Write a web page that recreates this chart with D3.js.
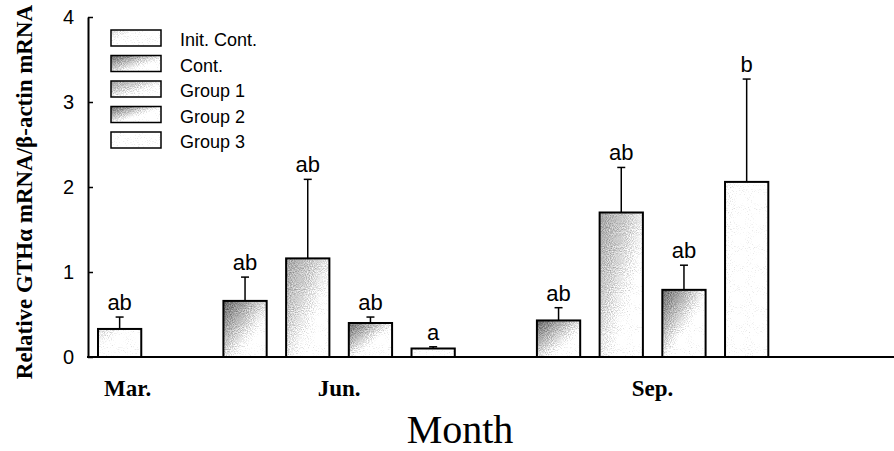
<!DOCTYPE html>
<html>
<head>
<meta charset="utf-8">
<script src="https://cdn.jsdelivr.net/npm/d3@7"></script>
<style>
  html, body { margin: 0; padding: 0; background: #fff; }
  svg { display: block; }
</style>
</head>
<body>
<svg id="chart" width="894" height="451"></svg>
<script>
// Relative GTHα mRNA expression by month and treatment group
const months = ["Mar.", "Jun.", "Sep."];
const groups = ["Init. Cont.", "Cont.", "Group 1", "Group 2", "Group 3"];

const barMonth  = ["Mar.", "Jun.", "Jun.", "Jun.", "Jun.", "Sep.", "Sep.", "Sep.", "Sep."];
const barGroup  = ["Init. Cont.", "Cont.", "Group 1", "Group 2", "Group 3", "Cont.", "Group 1", "Group 2", "Group 3"];
const barValue  = [0.33, 0.66, 1.16, 0.40, 0.10, 0.43, 1.70, 0.79, 2.06];
const barError  = [0.14, 0.28, 0.93, 0.07, 0.02, 0.15, 0.53, 0.29, 1.21];
const barLetter = ["ab", "ab", "ab", "ab", "a", "ab", "ab", "ab", "b"];

const yTicks = [0, 1, 2, 3, 4];
const yTitle = "Relative GTHα mRNA/β-actin mRNA";
const xTitle = "Month";

const bars = barValue.map((v, i) => ({
  month: barMonth[i], group: barGroup[i], value: v, err: barError[i], letter: barLetter[i],
  key: barMonth[i] + "|" + barGroup[i]
}));

// one slot per bar, with an empty slot between months
const slots = [];
months.forEach((m, mi) => {
  bars.filter(b => b.month === m).forEach(b => slots.push(b.key));
  if (mi < months.length - 1) slots.push("gap" + mi);
});

const W = 894, H = 451;
const axisX = 88;
const svg = d3.select("#chart");

const x = d3.scaleBand()
  .domain(slots)
  .range([98, 768.3])
  .paddingInner(0.31)
  .paddingOuter(0);

const y = d3.scaleLinear().domain([0, 4]).range([357, 17]);

// gradient fills: grey toward the upper-left, fading to white
const fills = {
  "Init. Cont.": [["0", "#c8c8c8"], ["0.4", "#ffffff"]],
  "Cont.":       [["0", "#555555"], ["0.3", "#a0a0a0"], ["0.7", "#ffffff"]],
  "Group 1":     [["0", "#939393"], ["0.35", "#c2c2c2"], ["0.7", "#ffffff"]],
  "Group 2":     [["0", "#5a5a5a"], ["0.3", "#aaaaaa"], ["0.6", "#ffffff"]],
  "Group 3":     [["0", "#f0f0f0"], ["0.3", "#ffffff"]]
};
const defs = svg.append("defs");
groups.forEach((g, gi) => {
  const lg = defs.append("linearGradient")
    .attr("id", "fill" + gi)
    .attr("x1", 0).attr("y1", 0).attr("x2", 1).attr("y2", 1);
  fills[g].forEach(([o, c]) => lg.append("stop").attr("offset", o).attr("stop-color", c));
});
const gradId = g => "url(#fill" + groups.indexOf(g) + ")";

// halftone-like grain on the shaded fills
const grain = defs.append("filter").attr("id", "grain")
  .attr("x", 0).attr("y", 0).attr("width", 1).attr("height", 1)
  .attr("color-interpolation-filters", "sRGB");
grain.append("feTurbulence").attr("type", "fractalNoise").attr("baseFrequency", 0.95)
  .attr("numOctaves", 1).attr("seed", 7).attr("result", "noise");
grain.append("feColorMatrix").attr("in", "noise").attr("type", "matrix")
  .attr("values", "1 0 0 0 0  1 0 0 0 0  1 0 0 0 0  0 0 0 0 1").attr("result", "gray");
grain.append("feComposite").attr("in", "SourceGraphic").attr("in2", "gray")
  .attr("operator", "arithmetic")
  .attr("k1", 0).attr("k2", 1).attr("k3", 0.6).attr("k4", -0.24);

// axes
const yAxis = d3.axisLeft(y)
  .tickValues(yTicks)
  .tickFormat(d3.format("d"))
  .tickSizeInner(-5)
  .tickSizeOuter(0)
  .tickPadding(14);

const gy = svg.append("g").attr("transform", `translate(${axisX},0)`).call(yAxis);
gy.select(".domain").attr("stroke", "#000").attr("stroke-width", 2);
gy.selectAll(".tick line").attr("stroke", "#000").attr("stroke-width", 1.5);
gy.selectAll(".tick text")
  .attr("font-family", "'Liberation Sans', Arial, sans-serif")
  .attr("font-size", 20)
  .attr("fill", "#000");

svg.append("line")
  .attr("x1", axisX - 1).attr("x2", W)
  .attr("y1", y(0)).attr("y2", y(0))
  .attr("stroke", "#000").attr("stroke-width", 2);

// bars
const gb = svg.append("g");
gb.selectAll("rect.fill").data(bars).join("rect")
  .attr("class", "fill")
  .attr("x", d => x(d.key))
  .attr("y", d => y(d.value))
  .attr("width", x.bandwidth())
  .attr("height", d => y(0) - y(d.value))
  .attr("fill", d => gradId(d.group))
  .attr("filter", "url(#grain)");
gb.selectAll("rect.edge").data(bars).join("rect")
  .attr("class", "edge")
  .attr("x", d => x(d.key))
  .attr("y", d => y(d.value))
  .attr("width", x.bandwidth())
  .attr("height", d => y(0) - y(d.value))
  .attr("fill", "none")
  .attr("stroke", "#000")
  .attr("stroke-width", 2);

// upper error bars
const cx = d => x(d.key) + x.bandwidth() / 2;
gb.selectAll("line.err").data(bars).join("line")
  .attr("class", "err")
  .attr("x1", cx).attr("x2", cx)
  .attr("y1", d => y(d.value)).attr("y2", d => y(d.value + d.err))
  .attr("stroke", "#000").attr("stroke-width", 1.5);
gb.selectAll("line.cap").data(bars).join("line")
  .attr("class", "cap")
  .attr("x1", d => cx(d) - 4).attr("x2", d => cx(d) + 4)
  .attr("y1", d => y(d.value + d.err)).attr("y2", d => y(d.value + d.err))
  .attr("stroke", "#000").attr("stroke-width", 1.5);

// significance letters
gb.selectAll("text.letter").data(bars).join("text")
  .attr("class", "letter")
  .attr("x", cx)
  .attr("y", d => y(d.value + d.err) - 7)
  .attr("text-anchor", "middle")
  .attr("font-family", "'Liberation Sans', Arial, sans-serif")
  .attr("font-size", 22)
  .attr("fill", "#000")
  .text(d => d.letter);

// month labels under each group of bars
const monthCenter = m => {
  const ks = bars.filter(b => b.month === m).map(b => x(b.key) + x.bandwidth() / 2);
  return d3.mean(ks);
};
svg.selectAll("text.month").data(months).join("text")
  .attr("class", "month")
  .attr("x", d => monthCenter(d) + (d === months[0] ? 8 : 0))
  .attr("y", 396)
  .attr("text-anchor", "middle")
  .attr("font-family", "'Liberation Serif', 'Times New Roman', serif")
  .attr("font-weight", "bold")
  .attr("font-size", 23)
  .attr("fill", "#000")
  .text(d => d);

svg.append("text")
  .attr("x", 460).attr("y", 443)
  .attr("text-anchor", "middle")
  .attr("font-family", "'Liberation Serif', 'Times New Roman', serif")
  .attr("font-size", 40)
  .attr("fill", "#000")
  .text(xTitle);

svg.append("text")
  .attr("transform", "translate(32,192) rotate(-90)")
  .attr("text-anchor", "middle")
  .attr("font-family", "'Liberation Serif', 'Times New Roman', serif")
  .attr("font-weight", "bold")
  .attr("font-size", 23)
  .attr("fill", "#000")
  .text(yTitle);

// legend
const lg = svg.append("g").attr("transform", "translate(111,30)");
const item = lg.selectAll("g").data(groups).join("g")
  .attr("transform", (d, i) => `translate(0,${i * 25.5})`);
item.append("rect")
  .attr("width", 50).attr("height", 16)
  .attr("fill", d => gradId(d))
  .attr("filter", "url(#grain)");
item.append("rect")
  .attr("width", 50).attr("height", 16)
  .attr("fill", "none").attr("stroke", "#000").attr("stroke-width", 1.5);
item.append("text")
  .attr("x", 69).attr("y", 16)
  .attr("font-family", "'Liberation Sans', Arial, sans-serif")
  .attr("font-size", 18)
  .attr("fill", "#000")
  .text(d => d);
</script>
</body>
</html>
